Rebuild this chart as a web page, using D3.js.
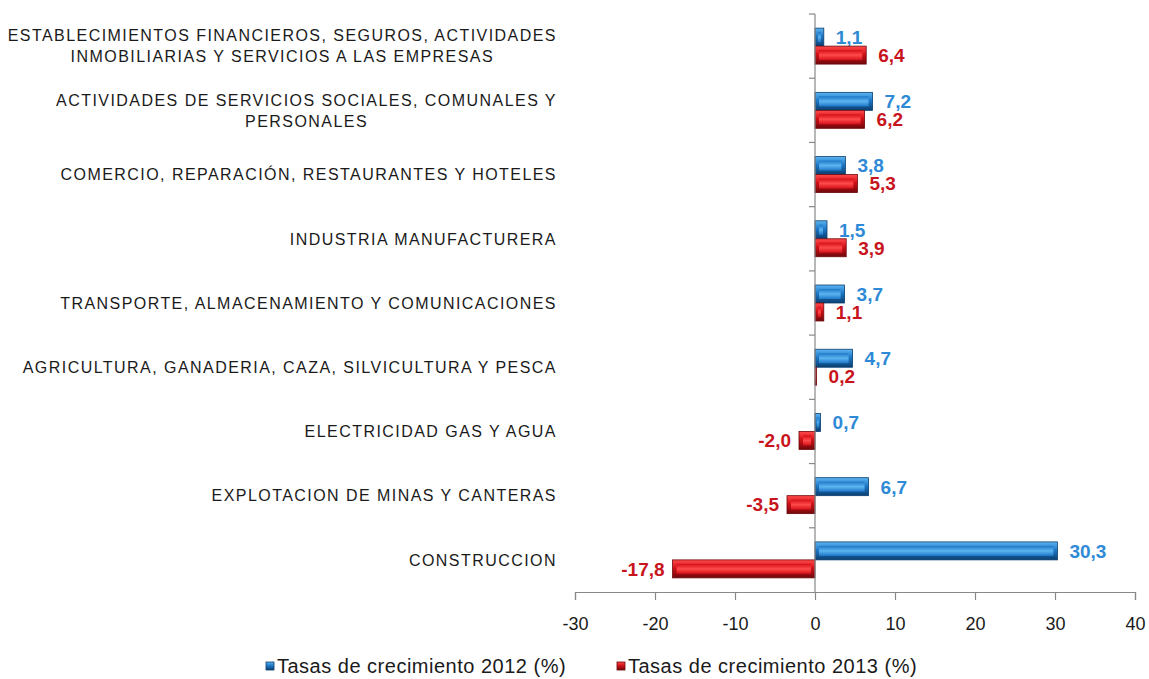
<!DOCTYPE html>
<html>
<head>
<meta charset="utf-8">
<script src="https://cdnjs.cloudflare.com/ajax/libs/d3/7.8.5/d3.min.js"></script>
<style>
  body { margin: 0; background: #fff; }
  svg { display: block; font-family: "Liberation Sans", Arial, sans-serif; }
</style>
</head>
<body>
<div id="chart"></div>
<script>
// categories top to bottom, "|" marks a line break
var categories = [
  'ESTABLECIMIENTOS FINANCIEROS, SEGUROS, ACTIVIDADES|INMOBILIARIAS Y SERVICIOS A LAS EMPRESAS',
  'ACTIVIDADES DE SERVICIOS SOCIALES, COMUNALES Y|PERSONALES',
  'COMERCIO, REPARACIÓN, RESTAURANTES Y HOTELES',
  'INDUSTRIA MANUFACTURERA',
  'TRANSPORTE, ALMACENAMIENTO Y COMUNICACIONES',
  'AGRICULTURA, GANADERIA, CAZA, SILVICULTURA Y PESCA',
  'ELECTRICIDAD GAS Y AGUA',
  'EXPLOTACION DE MINAS Y CANTERAS',
  'CONSTRUCCION'
];
var rate2012 = [1.1, 7.2, 3.8, 1.5, 3.7, 4.7, 0.7, 6.7, 30.3];
var rate2013 = [6.4, 6.2, 5.3, 3.9, 1.1, 0.2, -2.0, -3.5, -17.8];
var seriesNames = ['Tasas de crecimiento 2012 (%)', 'Tasas de crecimiento 2013 (%)'];
var xTicks = [-30, -20, -10, 0, 10, 20, 30, 40];

var W = 1149, H = 679;
var svg = d3.select('#chart').append('svg').attr('width', W).attr('height', H);

var axisY = 592;
var x = d3.scaleLinear().domain([-30, 40]).range([575, 1135]);
var y = d3.scaleBand().domain(d3.range(categories.length)).range([14, axisY])
  .paddingInner(0.44).paddingOuter(0.22);
var ySub = d3.scaleBand().domain([0, 1]).range([0, y.bandwidth()]);

var colors = [
  { light: '#5cb4f0', mid: '#1e78c8', dark: '#0b3f70', label: '#2e8ad6' },
  { light: '#ff4a4a', mid: '#d41018', dark: '#6e080c', label: '#c8141c' }
];

// gradients for the bevelled bars
var defs = svg.append('defs');
colors.forEach(function(c, i) {
  var g = defs.append('linearGradient').attr('id', 'edge' + i)
    .attr('x1', 0).attr('y1', 0).attr('x2', 0).attr('y2', 1);
  g.append('stop').attr('offset', '0%').attr('stop-color', c.light);
  g.append('stop').attr('offset', '45%').attr('stop-color', c.mid);
  g.append('stop').attr('offset', '100%').attr('stop-color', c.dark);
  var f = defs.append('linearGradient').attr('id', 'face' + i)
    .attr('x1', 0).attr('y1', 0).attr('x2', 0).attr('y2', 1);
  f.append('stop').attr('offset', '0%').attr('stop-color', c.mid);
  f.append('stop').attr('offset', '50%').attr('stop-color', c.light);
  f.append('stop').attr('offset', '100%').attr('stop-color', c.mid);
});

var rows = categories.map(function(c, i) {
  return { i: i, name: c, values: [rate2012[i], rate2013[i]] };
});

// bars
var group = svg.selectAll('g.row').data(rows).enter().append('g')
  .attr('class', 'row')
  .attr('transform', function(d) { return 'translate(0,' + y(d.i) + ')'; });

var bars = group.selectAll('g.bar').data(function(d) {
  return d.values.map(function(v, s) { return { v: v, s: s }; });
}).enter().append('g').attr('class', 'bar');

function barX(d) { return Math.min(x(0), x(d.v)); }
function barW(d) { return Math.abs(x(d.v) - x(0)); }

bars.append('rect')
  .attr('x', barX)
  .attr('y', function(d) { return ySub(d.s); })
  .attr('width', barW)
  .attr('height', ySub.bandwidth())
  .attr('fill', function(d) { return 'url(#edge' + d.s + ')'; })
  .attr('stroke', function(d) { return colors[d.s].dark; })
  .attr('stroke-width', 0.8);

bars.append('rect')
  .attr('x', function(d) { return barX(d) + Math.min(4, barW(d) / 3); })
  .attr('y', function(d) { return ySub(d.s) + 4; })
  .attr('width', function(d) { return Math.max(0, barW(d) - 2 * Math.min(4, barW(d) / 3)); })
  .attr('height', ySub.bandwidth() - 8)
  .attr('fill', function(d) { return 'url(#face' + d.s + ')'; });

// value labels
bars.append('text')
  .attr('x', function(d) { return d.v >= 0 ? x(d.v) + 12 : x(d.v) - 8; })
  .attr('y', function(d) { return ySub(d.s) + ySub.bandwidth() / 2; })
  .attr('dy', '0.36em')
  .attr('text-anchor', function(d) { return d.v >= 0 ? 'start' : 'end'; })
  .attr('fill', function(d) { return colors[d.s].label; })
  .attr('font-size', 19)
  .attr('font-weight', 'bold')
  .text(function(d) { return d.v.toFixed(1).replace('.', ','); });

// vertical axis line with ticks at category boundaries
var step = y.step();
svg.append('line')
  .attr('x1', x(0)).attr('x2', x(0))
  .attr('y1', y.range()[0]).attr('y2', axisY)
  .attr('stroke', '#888').attr('stroke-width', 1.2);
svg.selectAll('line.ytick').data(d3.range(categories.length)).enter().append('line')
  .attr('class', 'ytick')
  .attr('x1', x(0) - 6).attr('x2', x(0))
  .attr('y1', function(i) { return y.range()[0] + i * step; })
  .attr('y2', function(i) { return y.range()[0] + i * step; })
  .attr('stroke', '#888').attr('stroke-width', 1.2);

// category labels
var labelRight = 557;
var cat = svg.selectAll('g.cat').data(rows).enter().append('g').attr('class', 'cat');
cat.each(function(d) {
  var g = d3.select(this);
  var lines = d.name.split('|');
  var cy = y(d.i) + y.bandwidth() / 2;
  var texts = lines.map(function(l, k) {
    return g.append('text')
      .attr('y', cy + (k - (lines.length - 1) / 2) * 21)
      .attr('dy', '0.36em')
      .attr('font-size', 16)
      .attr('letter-spacing', 1.45)
      .attr('fill', '#1a1a1a')
      .attr('text-anchor', 'middle')
      .text(l);
  });
  var maxW = d3.max(texts, function(t) { return t.node().getComputedTextLength(); });
  texts.forEach(function(t) { t.attr('x', labelRight - maxW / 2); });
});

// x axis
var xAxis = svg.append('g')
  .attr('transform', 'translate(0,' + axisY + ')')
  .call(d3.axisBottom(x).tickValues(xTicks).tickSize(8).tickPadding(17)
    .tickFormat(function(d) { return String(d); }));
xAxis.select('.domain').attr('stroke', '#888').attr('stroke-width', 1.2);
xAxis.selectAll('.tick line').attr('stroke', '#888').attr('stroke-width', 1.2);
xAxis.selectAll('.tick text')
  .attr('font-size', 18)
  .attr('fill', '#1a1a1a')
  .attr('font-family', '"Liberation Sans", Arial, sans-serif');

// legend
var legendX = [266, 617];
var legend = svg.selectAll('g.legend').data(seriesNames).enter().append('g')
  .attr('class', 'legend')
  .attr('transform', function(d, i) { return 'translate(' + legendX[i] + ',666)'; });
legend.append('rect')
  .attr('x', 0).attr('y', -4).attr('width', 8).attr('height', 8)
  .attr('fill', function(d, i) { return 'url(#edge' + i + ')'; })
  .attr('stroke', function(d, i) { return colors[i].dark; })
  .attr('stroke-width', 0.8);
legend.append('text')
  .attr('x', 11).attr('y', 0).attr('dy', '0.36em')
  .attr('font-size', 20)
  .attr('letter-spacing', 0.5)
  .attr('fill', '#1a1a1a')
  .text(function(d) { return d; });
</script>
</body>
</html>
